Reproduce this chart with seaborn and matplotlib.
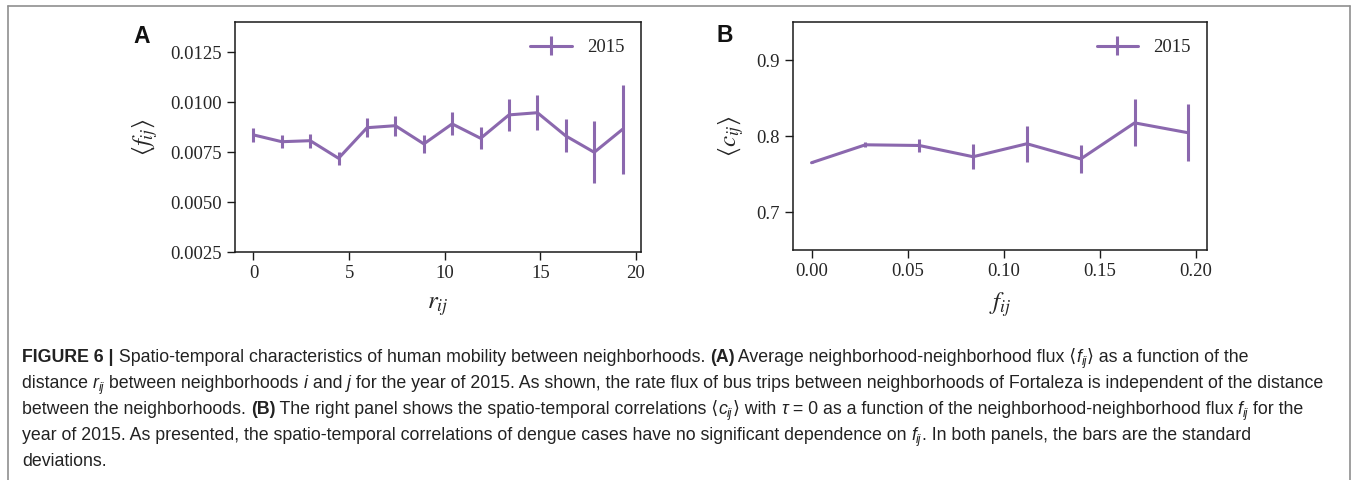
import numpy as np
import pandas as pd
import matplotlib
matplotlib.use("Agg")
import matplotlib.pyplot as plt
import seaborn as sns
from matplotlib.container import ErrorbarContainer
from matplotlib.lines import Line2D
from matplotlib.font_manager import FontProperties
from matplotlib.ticker import MultipleLocator, StrMethodFormatter

# ---------------- data ----------------
r_ij = [0.0, 1.48, 2.97, 4.45, 5.94, 7.42, 8.91, 10.39, 11.88, 13.36, 14.85, 16.33, 17.82, 19.30]
f_mean = [0.00837, 0.00803, 0.00808, 0.00720, 0.00873, 0.00883, 0.00792,
          0.00892, 0.00820, 0.00937, 0.00948, 0.00832, 0.00750, 0.00865]
f_std = [0.00036, 0.00032, 0.00035, 0.00033, 0.00048, 0.00050, 0.00044,
         0.00058, 0.00054, 0.00079, 0.00087, 0.00083, 0.00154, 0.00222]

f_ij = [0.0, 0.028, 0.056, 0.084, 0.112, 0.140, 0.168, 0.196]
c_mean = [0.765, 0.7886, 0.7877, 0.7729, 0.790, 0.770, 0.8175, 0.8044]
c_std = [0.001, 0.0035, 0.0083, 0.0164, 0.0236, 0.018, 0.031, 0.0376]

series_label = "2015"
panel_labels = ["A", "B"]
xlabels = [r"$r_{ij}$", r"$f_{ij}$"]
ylabels = [r"$\langle f_{ij}\rangle$", r"$\langle c_{ij}\rangle$"]

caption_lines = [
    [("FIGURE 6 |", "b"), (" Spatio-temporal characteristics of human mobility between neighborhoods. ", "r"),
     ("(A)", "b"), (" Average neighborhood-neighborhood flux \u27e8", "r"), ("f", "i"), ("ij", "s"),
     ("\u27e9 as a function of the", "r")],
    [("distance ", "r"), ("r", "i"), ("ij", "s"), (" between neighborhoods ", "r"), ("i", "i"),
     (" and ", "r"), ("j", "i"),
     (" for the year of 2015. As shown, the rate flux of bus trips between neighborhoods of Fortaleza is independent of the distance", "r")],
    [("between the neighborhoods. ", "r"), ("(B)", "b"),
     (" The right panel shows the spatio-temporal correlations \u27e8", "r"), ("c", "i"), ("ij", "s"),
     ("\u27e9 with ", "r"), ("\u03c4", "i"), (" = 0 as a function of the neighborhood-neighborhood flux ", "r"),
     ("f", "i"), ("ij", "s"), (" for the", "r")],
    [("year of 2015. As presented, the spatio-temporal correlations of dengue cases have no significant dependence on ", "r"),
     ("f", "i"), ("ij", "s"), (". In both panels, the bars are the standard", "r")],
    [("deviations.", "r")],
]

# ---------------- style ----------------
W, H, DPI = 1354, 480, 100
sns.set_theme(style="ticks")
plt.rcParams["font.family"] = ["Liberation Serif", "DejaVu Serif"]
plt.rcParams["mathtext.fontset"] = "stix"
plt.rcParams["axes.linewidth"] = 1.1
plt.rcParams["axes.edgecolor"] = "#1a1a1a"

color = "#8b68ae"
lw = 2.2

fig = plt.figure(figsize=(W / DPI, H / DPI), dpi=DPI)
fig.patch.set_facecolor("white")

axA = fig.add_axes([235 / W, 1 - 252.3 / H, (641 - 235) / W, (252.3 - 22.3) / H])
axB = fig.add_axes([792.7 / W, 1 - 250 / H, (1207.3 - 792.7) / W, (250 - 22.3) / H])

label_x = [-0.249, -0.183]
xlabel_pad = [9, 7]
datasets = [(axA, r_ij, f_mean, f_std), (axB, f_ij, c_mean, c_std)]
for k, (ax, xs, ys, es) in enumerate(datasets):
    df = pd.DataFrame({"x": xs, "y": ys, "e": es})
    sns.lineplot(data=df, x="x", y="y", ax=ax, color=color, linewidth=lw, legend=False)
    eb = ax.errorbar(df["x"], df["y"], yerr=df["e"], fmt="none", ecolor=color, elinewidth=lw, capsize=0)
    handle = ErrorbarContainer((ax.lines[0], (), tuple(eb[2])), has_xerr=False, has_yerr=True, label=series_label)
    ax.legend(handles=[handle], labels=[series_label], loc="upper right", frameon=False,
              fontsize=13.5, handlelength=2.2, handletextpad=0.8)
    ax.set_xlabel(xlabels[k], fontsize=18, labelpad=xlabel_pad[k])
    ax.set_ylabel(ylabels[k], fontsize=18, labelpad=7)
    ax.tick_params(axis="both", labelsize=13.5, length=6, width=1.0, direction="out", color="#1a1a1a")
    ax.text(label_x[k], 0.94, panel_labels[k], transform=ax.transAxes,
            fontsize=16.5, fontweight="bold", family=["Liberation Sans", "DejaVu Sans"],
            ha="left", va="center", color="#111111")

axA.set_ylim(0.0025, 0.014)
axA.yaxis.set_major_locator(MultipleLocator(0.0025))
axA.yaxis.set_major_formatter(StrMethodFormatter("{x:.4f}"))
axA.set_xticks([0, 5, 10, 15, 20])

axB.set_ylim(0.65, 0.95)
axB.set_yticks([0.7, 0.8, 0.9])
axB.yaxis.set_major_formatter(StrMethodFormatter("{x:.1f}"))
axB.set_xticks([0.0, 0.05, 0.10, 0.15, 0.20])
axB.xaxis.set_major_formatter(StrMethodFormatter("{x:.2f}"))

# ---------------- frame lines ----------------
frame_c = "#8f8f8f"
fig.add_artist(Line2D([8 / W, 1350 / W], [1 - 6 / H, 1 - 6 / H], color=frame_c, lw=1.2, transform=fig.transFigure))
fig.add_artist(Line2D([8 / W, 8 / W], [0, 1 - 6 / H], color=frame_c, lw=1.2, transform=fig.transFigure))
fig.add_artist(Line2D([1350 / W, 1350 / W], [0, 1 - 6 / H], color=frame_c, lw=1.2, transform=fig.transFigure))

# ---------------- caption ----------------
renderer = fig.canvas.get_renderer()
cap_family = ["Liberation Sans", "DejaVu Sans"]
cap_color = "#222222"


def fprops(kind, size):
    if kind == "b":
        return FontProperties(family=cap_family, size=size, weight="bold")
    if kind == "i":
        return FontProperties(family=cap_family, size=size, style="italic")
    if kind == "s":
        return FontProperties(family=cap_family, size=size * 0.68, style="italic")
    return FontProperties(family=cap_family, size=size)


def measure(s, fp):
    w1, _, _ = renderer.get_text_width_height_descent("|" + s + "|", fp, ismath=False)
    w0, _, _ = renderer.get_text_width_height_descent("||", fp, ismath=False)
    return w1 - w0


def line_width(segs, size):
    return sum(measure(t, fprops(k, size)) for t, k in segs)


base = 11.0
target = 1303
size = base * target / line_width(caption_lines[1], base)

x0 = 22
baselines = [362, 388, 414, 440, 466]
for segs, yb in zip(caption_lines, baselines):
    x = x0
    for t, k in segs:
        fp = fprops(k, size)
        dy = -3.5 if k == "s" else 0.0
        fig.text(x / W, 1 - (yb - dy) / H, t, fontproperties=fp, color=cap_color, ha="left", va="baseline")
        x += measure(t, fp)

fig.savefig("out.png", dpi=DPI, facecolor="white")
